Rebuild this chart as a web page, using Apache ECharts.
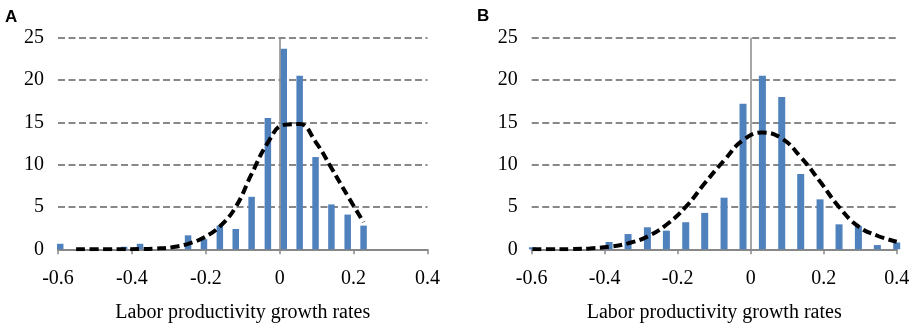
<!DOCTYPE html>
<html>
<head>
<meta charset="utf-8">
<script src="https://cdn.jsdelivr.net/npm/echarts@6/dist/echarts.min.js"></script>
<style>
  html, body { margin: 0; padding: 0; background: #fff; }
  #chart { width: 915px; height: 329px; }
</style>
</head>
<body>
<div id="chart"></div>
<script>
// Bin centres and frequencies (%) of labor productivity growth rates
const binsA = [-0.594, -0.551, -0.508, -0.464, -0.421, -0.378, -0.335, -0.292, -0.248, -0.205,
               -0.162, -0.119, -0.076, -0.032, 0.011, 0.054, 0.097, 0.140, 0.184, 0.227];
const barsA = [0.65, 0, 0, 0, 0.3, 0.65, 0, 0, 1.65, 1.2,
               2.8, 2.4, 6.2, 15.5, 23.7, 20.5, 10.9, 5.3, 4.1, 2.8];
const curveA = [null, 0, 0, 0, 0.01, 0.03, 0.1, 0.25, 0.65, 1.4,
                2.7, 5.0, 8.9, 12.6, 14.7, 14.8, 12.7, 9.6, 6.3, 3.2];

const binsB = [-0.598, -0.546, -0.493, -0.441, -0.388, -0.336, -0.283, -0.231, -0.178, -0.126,
               -0.073, -0.021, 0.032, 0.085, 0.137, 0.190, 0.242, 0.295, 0.347, 0.400];
const barsB = [0.24, 0, 0, 0, 0.86, 1.8, 2.6, 2.2, 3.2, 4.3,
               6.1, 17.2, 20.5, 18.0, 8.9, 5.9, 2.95, 2.75, 0.5, 0.8];
const curveB = [0, 0, 0.02, 0.1, 0.3, 0.7, 1.5, 2.9, 5.0, 7.8,
                10.5, 12.9, 13.8, 13.1, 10.9, 8.0, 5.0, 2.7, 1.6, 0.9];

const panelLabels = ['A', 'B'];
const axisTitle = 'Labor productivity growth rates';
const xTicks = { min: -0.6, max: 0.4, step: 0.2 };
const yTicks = { min: 0, max: 25, step: 5 };

const serif = 'Liberation Serif';
const gray = '#888888';
const barColor = '#4F81BD';

function pairs(xs, ys) {
  const out = [];
  xs.forEach((x, i) => { if (ys[i] !== null) out.push([x, ys[i]]); });
  return out;
}

function xAxisFor(gridIndex) {
  return {
    type: 'value', gridIndex,
    min: xTicks.min, max: xTicks.max, interval: xTicks.step,
    name: axisTitle, nameLocation: 'middle', nameGap: 53,
    nameTextStyle: { fontFamily: serif, fontSize: 20, color: '#000' },
    axisLine: { onZero: false, lineStyle: { color: gray, width: 2 } },
    axisTick: { show: true, length: 5, lineStyle: { color: gray, width: 1.5 } },
    axisLabel: { fontFamily: serif, fontSize: 20, color: '#000', margin: 19 },
    splitLine: { show: false }
  };
}

function yAxisFor(gridIndex) {
  return {
    type: 'value', gridIndex,
    min: yTicks.min, max: yTicks.max, interval: yTicks.step,
    axisLine: { show: false },
    axisTick: { show: false },
    axisLabel: { fontFamily: serif, fontSize: 20, color: '#000', margin: 14 },
    splitLine: { show: true, showMinLine: false,
                 lineStyle: { color: gray, width: 2, type: [7, 3.5] } }
  };
}

function barSeries(idx, xs, ys, width) {
  return {
    type: 'bar', xAxisIndex: idx, yAxisIndex: idx,
    data: pairs(xs, ys), barWidth: width,
    itemStyle: { color: barColor },
    markLine: {
      silent: true, symbol: 'none', label: { show: false },
      lineStyle: { color: gray, width: 1.5, type: 'solid' },
      data: [{ xAxis: 0 }]
    }
  };
}

function curveSeries(idx, xs, ys) {
  return {
    type: 'line', xAxisIndex: idx, yAxisIndex: idx,
    data: pairs(xs, ys), smooth: 0.45, showSymbol: false, symbol: 'none',
    lineStyle: { color: '#000', width: 4, type: [9, 4.5] },
    z: 5
  };
}

const chart = echarts.init(document.getElementById('chart'), null, { renderer: 'canvas' });
chart.setOption({
  animation: false,
  grid: [
    { left: 58, top: 37.7, width: 369.5, height: 211.6 },
    { left: 531.7, top: 37.7, width: 365, height: 211.6 }
  ],
  xAxis: [xAxisFor(0), xAxisFor(1)],
  yAxis: [yAxisFor(0), yAxisFor(1)],
  series: [
    barSeries(0, binsA, barsA, 6.5),
    curveSeries(0, binsA, curveA),
    barSeries(1, binsB, barsB, 7),
    curveSeries(1, binsB, curveB)
  ],
  graphic: [
    { type: 'text', left: 5, top: 9,
      style: { text: panelLabels[0], fontFamily: 'Liberation Sans', fontWeight: 'bold',
               fontSize: 17, fill: '#000' } },
    { type: 'text', left: 477, top: 8,
      style: { text: panelLabels[1], fontFamily: 'Liberation Sans', fontWeight: 'bold',
               fontSize: 17, fill: '#000' } }
  ]
});
</script>
</body>
</html>
